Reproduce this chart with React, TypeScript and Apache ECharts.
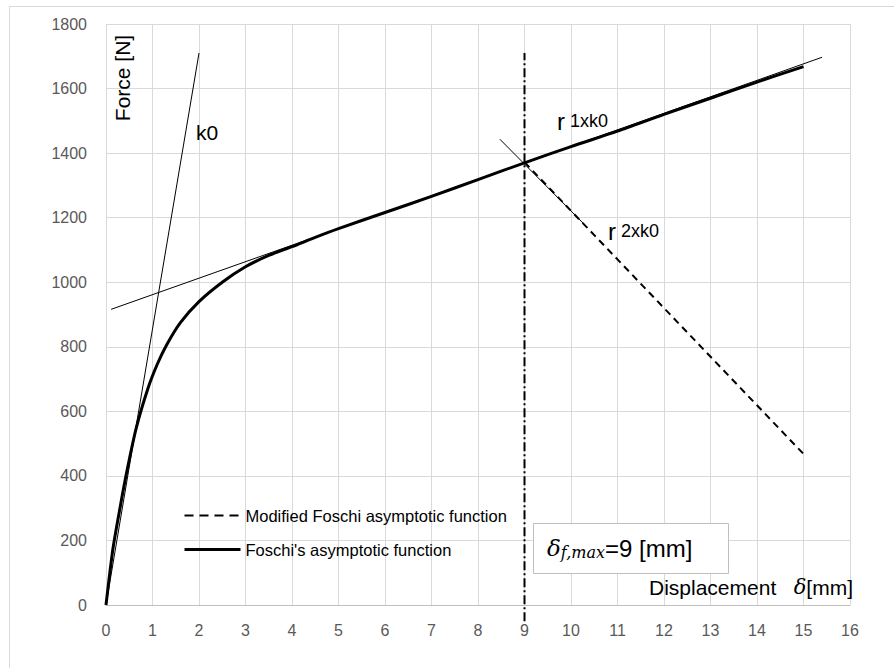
import React, { useEffect, useRef } from "react";
import * as echarts from "echarts";

const xTicks = [0, 16];
const yTicks = [0, 1800];

const foschiX = [0, 0.15, 0.3, 0.45, 0.65, 0.9, 1.1, 1.3, 1.6, 2, 2.5, 3, 3.5, 4, 4.5, 5, 6, 7, 8, 9, 10, 11, 12, 13, 14, 15];
const foschiY = [0, 175, 300, 415, 548, 670, 745, 805, 875, 940, 1000, 1048, 1083, 1110, 1139, 1166, 1216, 1266, 1318, 1370, 1420, 1468, 1520, 1570, 1620, 1668];

const modifiedX = [9, 15];
const modifiedY = [1372, 468];

const k0LineX = [0, 2];
const k0LineY = [0, 1710];

const r1LineX = [0.11, 15.4];
const r1LineY = [916, 1697];

const r2LineX = [8.47, 10.35];
const r2LineY = [1443, 1170];

const deltaMaxX = [9, 9];
const deltaMaxY = [-50, 1710];

const zip = (xs: number[], ys: number[]) => xs.map((x, i) => [x, ys[i]]);

const FONT = "'Liberation Sans', Arial, sans-serif";

export default function App() {
  const ref = useRef<HTMLDivElement>(null);
  useEffect(() => {
    if (!ref.current) return;
    const chart = echarts.init(ref.current, null, { renderer: "svg" });
    const thin = { color: "#000", width: 1, type: "solid" as const };
    chart.setOption({
      animation: false,
      backgroundColor: "#fff",
      grid: { left: 106, right: 44, top: 24, bottom: 63, containLabel: false },
      xAxis: {
        type: "value",
        min: xTicks[0],
        max: xTicks[1],
        interval: 1,
        axisLine: { show: true, lineStyle: { color: "#bfbfbf", width: 1 } },
        axisTick: { show: false },
        axisLabel: { color: "#595959", fontSize: 16, fontFamily: FONT, margin: 17, formatter: (v: number) => String(v) },
        splitLine: { show: true, lineStyle: { color: "#d9d9d9", width: 1 } },
      },
      yAxis: {
        type: "value",
        min: yTicks[0],
        max: yTicks[1],
        interval: 200,
        axisLine: { show: false },
        axisTick: { show: false },
        axisLabel: { color: "#595959", fontSize: 16, fontFamily: FONT, margin: 19, formatter: (v: number) => String(v) },
        splitLine: { show: true, lineStyle: { color: "#d9d9d9", width: 1 } },
      },
      legend: {
        orient: "vertical",
        left: 178,
        top: 502,
        itemWidth: 56,
        itemHeight: 14,
        itemGap: 17,
        itemStyle: { opacity: 0 },
        textStyle: { color: "#000", fontSize: 16.5, fontFamily: FONT },
        data: [
          { name: "Modified Foschi asymptotic function", lineStyle: { color: "#000", width: 2, type: [9, 6] } },
          { name: "Foschi's asymptotic function", lineStyle: { color: "#000", width: 3 } },
        ],
      },
      series: [
        {
          name: "Foschi's asymptotic function",
          type: "line",
          data: zip(foschiX, foschiY),
          smooth: 0.25,
          symbol: "none",
          lineStyle: { color: "#000", width: 3 },
          itemStyle: { color: "#000" },
          z: 5,
        },
        {
          name: "Modified Foschi asymptotic function",
          type: "line",
          data: zip(modifiedX, modifiedY),
          symbol: "none",
          lineStyle: { color: "#000", width: 2, type: [7, 5] },
          itemStyle: { color: "#000" },
          z: 5,
        },
        {
          name: "k0",
          type: "line",
          data: zip(k0LineX, k0LineY),
          symbol: "none",
          lineStyle: thin,
          z: 4,
        },
        {
          name: "r1",
          type: "line",
          data: zip(r1LineX, r1LineY),
          symbol: "none",
          lineStyle: thin,
          z: 4,
        },
        {
          name: "r2",
          type: "line",
          data: zip(r2LineX, r2LineY),
          symbol: "none",
          lineStyle: thin,
          z: 4,
        },
        {
          name: "dmax",
          type: "line",
          data: zip(deltaMaxX, deltaMaxY),
          symbol: "none",
          clip: false,
          lineStyle: { color: "#000", width: 2, type: [9, 3, 2, 3] },
          z: 3,
        },
      ],
      graphic: [
        {
          type: "rect",
          shape: { x: 9.5, y: 6.5, width: 900, height: 700 },
          style: { fill: "none", stroke: "#d9d9d9", lineWidth: 1 },
          z: -10,
          silent: true,
        },
        {
          type: "text",
          x: 122,
          y: 78,
          rotation: Math.PI / 2,
          style: {
            text: "Force [N]",
            font: `21px ${FONT}`,
            fill: "#000",
            align: "center",
            verticalAlign: "middle",
          },
          z: 10,
        },
        {
          type: "text",
          x: 196,
          y: 132,
          style: {
            text: "k0",
            font: `21px ${FONT}`,
            fill: "#000",
            verticalAlign: "middle",
          },
          z: 10,
        },
        {
          type: "text",
          x: 557,
          y: 121,
          style: {
            text: "{r|r}{s| 1xk0}",
            fill: "#000",
            verticalAlign: "middle",
            rich: {
              r: { font: `24px ${FONT}`, fill: "#000" },
              s: { font: `18px ${FONT}`, fill: "#000" },
            },
          },
          z: 10,
        },
        {
          type: "text",
          x: 608,
          y: 231,
          style: {
            text: "{r|r}{s| 2xk0}",
            fill: "#000",
            verticalAlign: "middle",
            rich: {
              r: { font: `24px ${FONT}`, fill: "#000" },
              s: { font: `18px ${FONT}`, fill: "#000" },
            },
          },
          z: 10,
        },
        {
          type: "rect",
          shape: { x: 533.5, y: 523.5, width: 195, height: 50 },
          style: { fill: "#fff", stroke: "#bfbfbf", lineWidth: 1 },
          z: 9,
        },
        {
          type: "text",
          x: 547,
          y: 548,
          style: {
            text: "{d|δ}{sub|f,max}{t|=9 [mm]}",
            fill: "#000",
            verticalAlign: "middle",
            rich: {
              d: { font: `italic 23px 'DejaVu Serif', serif`, fill: "#000" },
              sub: { font: `italic 16px 'DejaVu Serif', serif`, fill: "#000", padding: [9, 0, 0, 0] },
              t: { font: `24px ${FONT}`, fill: "#000" },
            },
          },
          z: 10,
        },
        {
          type: "text",
          x: 649,
          y: 587,
          style: {
            text: "{t|Displacement   }{d|δ}{t|[mm]}",
            fill: "#000",
            verticalAlign: "middle",
            rich: {
              t: { font: `21px ${FONT}`, fill: "#000" },
              d: { font: `italic 21px 'DejaVu Serif', serif`, fill: "#000" },
            },
          },
          z: 10,
        },
      ],
    });
    return () => chart.dispose();
  }, []);
  return (
    <div
      ref={ref}
      style={{ position: "fixed", left: 0, top: 0, width: 894, height: 668 }}
    />
  );
}
